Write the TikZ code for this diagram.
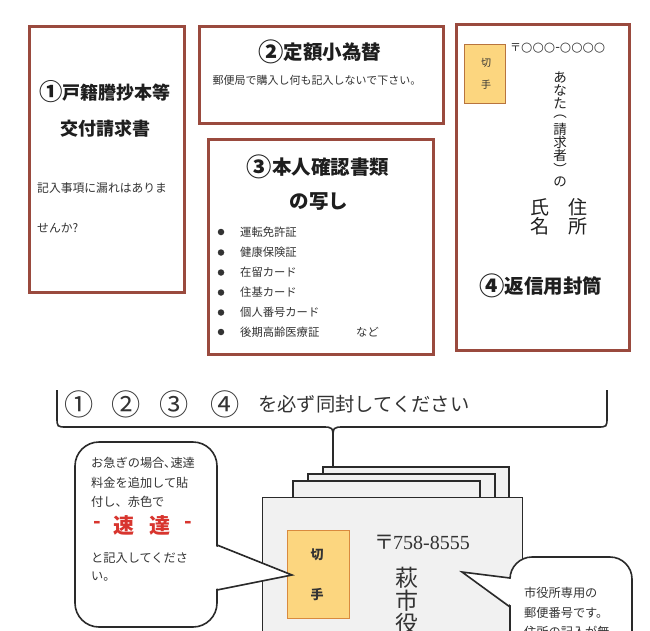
\documentclass[tikz,border=0pt]{standalone}
\usepackage{fontspec}
\setmainfont{Noto Sans CJK JP}
\newfontfamily\numserif{Liberation Serif}
\newfontfamily\dvsans{DejaVu Sans}
\newcommand\circn[2][1.3]{\raisebox{-0.09em}{\scalebox{#1}{#2}}}
\definecolor{boxred}{HTML}{9A4A3E}
\definecolor{stampfill}{HTML}{FCD67F}
\definecolor{stampdraw}{HTML}{B8743E}
\definecolor{stampdrawB}{HTML}{D98A3E}
\definecolor{envfill}{HTML}{F1F1F1}
\definecolor{txt}{HTML}{333333}
\definecolor{headtxt}{HTML}{1E1E1E}
\definecolor{redtxt}{HTML}{D8352E}
\definecolor{linegray}{HTML}{2A2A2A}
\tikzset{
  frame/.style={draw=boxred, line width=2.6pt, fill=white, anchor=north west, inner sep=0pt},
  headA/.style={font=\bfseries\fontsize{18}{20}\selectfont, text=headtxt, inner sep=0pt},
  headB/.style={font=\bfseries\fontsize{19.5}{21}\selectfont, text=headtxt, inner sep=0pt},
  bodyL/.style={font=\fontsize{11.3}{13}\selectfont, text=txt, anchor=west, inner sep=0pt},
  bodyC/.style={font=\fontsize{12.2}{14}\selectfont, text=txt, anchor=west, inner sep=0pt},
  stampbox/.style={draw=stampdraw, line width=1pt, fill=stampfill, anchor=north west, inner sep=0pt},
  paper/.style={draw=linegray, line width=1.1pt, fill=envfill},
  callout/.style={draw=linegray, line width=1.6pt, fill=white},
  bracestyle/.style={draw=linegray, line width=1.6pt},
  bullet/.style={circle, fill=txt, inner sep=0pt, minimum size=6.5pt},
  vchar/.style={text=headtxt, inner sep=0pt},
}
\begin{document}
\begin{tikzpicture}[x=1pt,y=-1pt]
\useasboundingbox (0,0) rectangle (650,630);
\clip (0,0) rectangle (650,630);
\fill[white] (0,0) rectangle (650,630);

% ---------- Box 1
\node[frame, minimum width=155pt, minimum height=266pt] (b1) at (28,25) {};
\node[headA] (b1h1) at (105,92) {\circn{①}戸籍謄抄本等};
\node[headA] (b1h2) at (105,129) {交付請求書};
\node[bodyL, font=\fontsize{11.8}{13}\selectfont] (b1t1) at (37,188) {記入事項に漏れはありま};
\node[bodyL, font=\fontsize{11.8}{13}\selectfont] (b1t2) at (37,228) {せんか?};

% ---------- Box 2
\node[frame, minimum width=244pt, minimum height=97pt] (b2) at (198,25) {};
\node[headB] (b2h) at (320,52) {\circn{②}定額小為替};
\node[bodyL, anchor=center, font=\fontsize{11}{13}\selectfont] (b2t) at (317,80) {郵便局で購入し何も記入しないで下さい。};

% ---------- Box 3
\node[frame, minimum width=225pt, minimum height=215pt] (b3) at (207,138) {};
\node[headB] (b3h1) at (318,167) {\circn{③}本人確認書類};
\node[headB] (b3h2) at (319,202) {の写し};
\foreach \t/\yy [count=\i] in {運転免許証/232, 健康保険証/252.5, 在留カード/272.5, 住基カード/292.5, 個人番号カード/312.5, 後期高齢医療証/332} {
  \node[bullet] (bl\i) at (221,\yy) {};
  \node[bodyL] (bt\i) at (240,\yy) {\t};
}
\node[bodyL] (b3etc) at (356,332) {など};

% ---------- Box 4
\node[frame, minimum width=173pt, minimum height=326pt] (b4) at (455,23) {};
\node[stampbox, minimum width=41pt, minimum height=59pt] (s1) at (464,44) {};
\node[vchar, font=\fontsize{10}{12}\selectfont, text=txt] (s1a) at (486,63) {切};
\node[vchar, font=\fontsize{10}{12}\selectfont, text=txt] (s1b) at (486,85) {手};
\node[vchar, anchor=west, font=\fontsize{11}{13}\selectfont, text=txt] (zip1) at (510,48) {〒{\dvsans\fontsize{13}{13}\selectfont ○○○-○○○○}};
\foreach \c [count=\i] in {あ,な,た,︵,請,求,者,︶,の} {
  \node[vchar, font=\fontsize{13.5}{14}\selectfont] (v\i) at (560,{77+13.1*(\i-1)}) {\c};
}
\node[vchar, font=\fontsize{19}{20}\selectfont] (n1) at (578,207) {住};
\node[vchar, font=\fontsize{19}{20}\selectfont] (n2) at (578,226) {所};
\node[vchar, font=\fontsize{19}{20}\selectfont] (n3) at (540,207) {氏};
\node[vchar, font=\fontsize{19}{20}\selectfont] (n4) at (540,226) {名};
\node[headB] (b4h) at (541,286) {\circn{④}返信用封筒};

% ---------- Brace and instruction
\node[vchar, font=\fontsize{19.5}{21}\selectfont, text=txt] (c1) at (79,404) {\circn[1.5]{①}};
\node[vchar, font=\fontsize{19.5}{21}\selectfont, text=txt] (c2) at (126,404) {\circn[1.5]{②}};
\node[vchar, font=\fontsize{19.5}{21}\selectfont, text=txt] (c3) at (174,404) {\circn[1.5]{③}};
\node[vchar, font=\fontsize{19.5}{21}\selectfont, text=txt] (c4) at (225,404) {\circn[1.5]{④}};
\node[vchar, anchor=west, font=\fontsize{19.3}{21}\selectfont, text=txt] (inst) at (258,404) {を必ず同封してください};
\coordinate (brL) at (57,390);
\coordinate (brR) at (607,390);
\coordinate (brTip) at (333,467);
\draw[bracestyle] (brL) -- (57,417) .. controls (57,427) .. (67,427) -- (322,427)
  .. controls (333,427) .. (333,440) -- (brTip);
\draw[bracestyle] (brTip) -- (333,440) .. controls (333,427) .. (344,427) -- (597,427)
  .. controls (607,427) .. (607,417) -- (brR);

% ---------- Envelope stack
\draw[paper] (323,500) rectangle (509,467);
\draw[paper] (308,500) rectangle (495,474);
\draw[paper] (293,500) rectangle (480,481);
\node[paper, anchor=north west, inner sep=0pt, minimum width=260pt, minimum height=200pt] (env) at (262,497) {};
\node[stampbox, draw=stampdrawB, line width=1.3pt, fill=stampfill, minimum width=62pt, minimum height=88pt] (s2) at (287,530) {};
\node[vchar, font=\bfseries\fontsize{13}{14}\selectfont, text=txt] (s2a) at (317,555) {切};
\node[vchar, font=\bfseries\fontsize{13}{14}\selectfont, text=txt] (s2b) at (317,595) {手};
\node[vchar, anchor=west, font=\fontsize{20}{22}\selectfont, text=txt] (zip2) at (374,542) {〒\hspace{-1pt}{\numserif 758-8555}};
\node[vchar, font=\fontsize{23}{24}\selectfont, text=txt] (e1) at (407,578) {萩};
\node[vchar, font=\fontsize{23}{24}\selectfont, text=txt] (e2) at (407,601) {市};
\node[vchar, font=\fontsize{23}{24}\selectfont, text=txt] (e3) at (407,624) {役};

% ---------- Left callout
\draw[callout, rounded corners=24pt] (75,442) rectangle (217,627);
\coordinate (lTip) at (292,575);
\fill[white] (215,546) -- (lTip) -- (215,589) -- cycle;
\draw[callout, fill=none, line join=miter] (217,545) -- (lTip) -- (217,590);
\node[bodyC] (l1) at (91,463) {お急ぎの場合､速達};
\node[bodyC] (l2) at (91,483) {料金を追加して貼};
\node[bodyC] (l3) at (91,502) {付し、赤色で};
\node[vchar, font=\bfseries\fontsize{20}{22}\selectfont, text=redtxt] (r1) at (97,525) {-};
\node[vchar, font=\bfseries\fontsize{21}{22}\selectfont, text=redtxt] (r2) at (124,525) {速};
\node[vchar, font=\bfseries\fontsize{21}{22}\selectfont, text=redtxt] (r3) at (160,525) {達};
\node[vchar, font=\bfseries\fontsize{20}{22}\selectfont, text=redtxt] (r4) at (188,525) {-};
\node[bodyC] (l4) at (91,558) {と記入してくださ};
\node[bodyC] (l5) at (91,577) {い。};

% ---------- Right callout
\draw[callout, rounded corners=22pt] (510,557) rectangle (632,720);
\coordinate (rTip) at (462,572);
\fill[white] (512,579) -- (rTip) -- (512,606) -- cycle;
\draw[callout, fill=none, line join=miter] (510,578) -- (rTip) -- (510,607);
\node[bodyC] (rc1) at (524,593) {市役所専用の};
\node[bodyC] (rc2) at (524,613) {郵便番号です。};
\node[bodyC] (rc3) at (524,632) {住所の記入が無};
\end{tikzpicture}
\end{document}
